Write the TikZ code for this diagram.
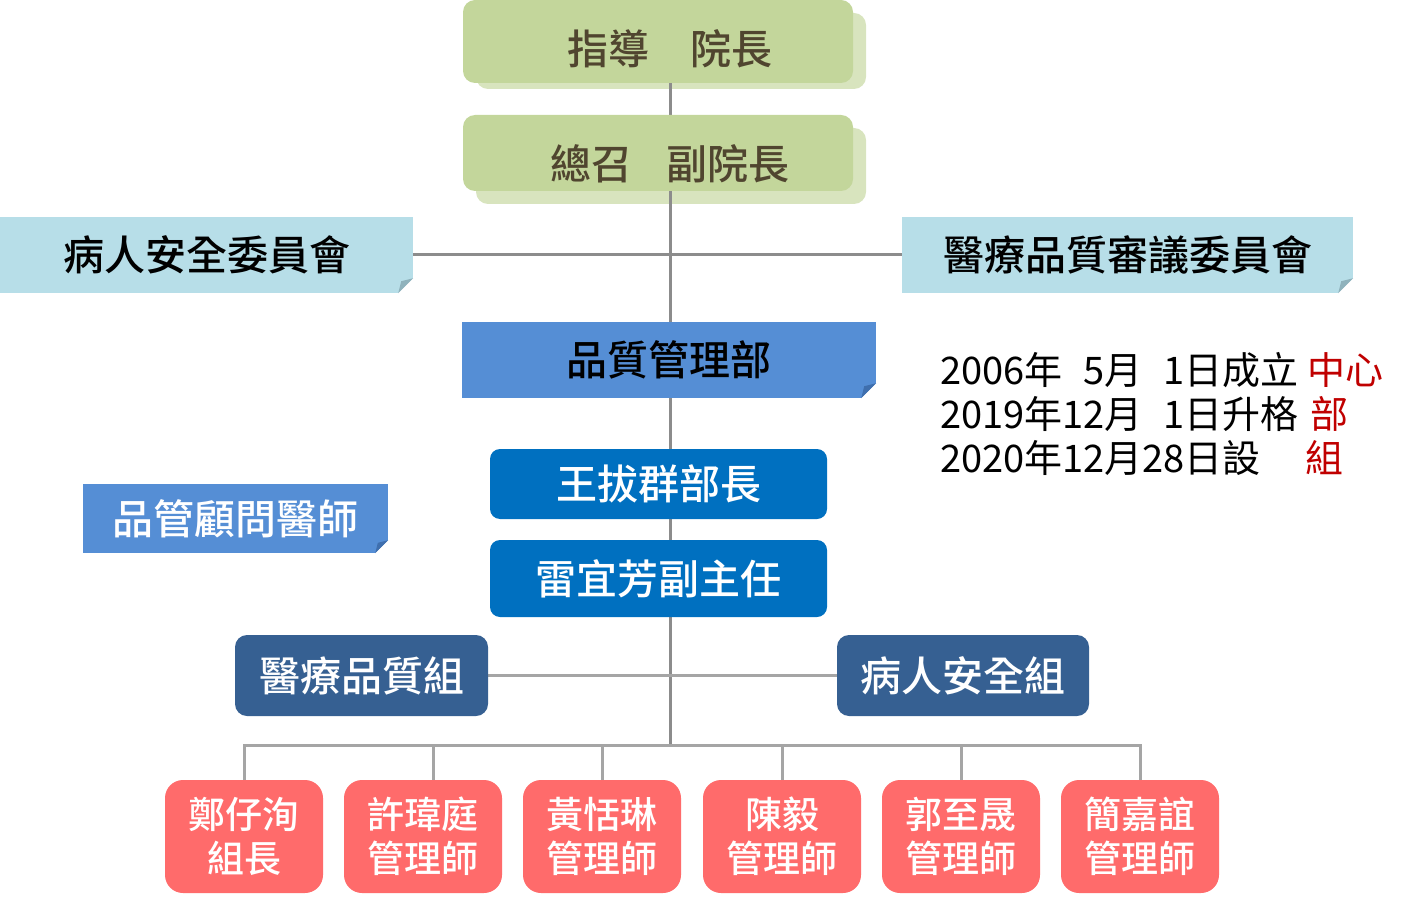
\documentclass[tikz,border=0pt]{standalone}
\usepackage{fontspec}
\setmainfont{Noto Sans CJK TC}[BoldFont={Noto Sans CJK TC Medium}]
\usetikzlibrary{backgrounds}
\definecolor{greenmain}{HTML}{C3D69B}
\definecolor{greenshade}{HTML}{D8E4BE}
\definecolor{greentext}{HTML}{50452F}
\definecolor{lightblue}{HTML}{B7DEE8}
\definecolor{lightfold}{HTML}{8FB2BC}
\definecolor{medblue}{HTML}{558ED5}
\definecolor{medfold}{HTML}{3F6FAE}
\definecolor{brightblue}{HTML}{0070C0}
\definecolor{darkblue}{HTML}{366092}
\definecolor{redbox}{HTML}{FF6B6B}
\definecolor{darkred}{HTML}{C00000}
\definecolor{linegray}{HTML}{8C8C8C}
\definecolor{lightgray}{HTML}{A5A5A5}
\newcommand{\mkfold}[3]{%
  \fill[white] (#1.south east) -- ++(-#2,0) -- ++(#2,-#2) -- cycle;
  \fill[#3] ([xshift=-#2pt]#1.south east) -- ([yshift=#2pt]#1.south east)
     -- ([xshift={-0.8*#2pt},yshift={0.8*#2pt}]#1.south east) -- cycle;}
\begin{document}
\begin{tikzpicture}[x=1pt,y=-1pt,
  box/.style={inner sep=0pt, align=center, font=\bfseries\fontsize{41}{49}\selectfont},
  greenbox/.style={box, fill=greenmain, rounded corners=12pt, text=greentext, minimum width=390pt},
  lbbox/.style={box, fill=lightblue, text=black, minimum height=76pt},
  mbbox/.style={box, fill=medblue},
  headbox/.style={box, fill=brightblue, rounded corners=10pt, text=white, minimum width=337pt},
  grpbox/.style={box, fill=darkblue, rounded corners=12pt, text=white, minimum height=81pt},
  staffbox/.style={box, fill=redbox, rounded corners=18pt, text=white,
     font=\bfseries\fontsize{37}{44}\selectfont, minimum width=158pt, minimum height=113pt},
  datetext/.style={anchor=base west, inner sep=0pt, font=\fontsize{38}{44}\selectfont},
  conn/.style={line width=3pt, draw=linegray},
  lowconn/.style={line width=3pt, draw=lightgray}]
\useasboundingbox (0,0) rectangle (1410,909);

% top boxes
\node[greenbox, minimum height=83pt, text height=47pt, text depth=0pt] (t1) at (658,41.5)
  {\hspace*{24pt}指導\hspace{41pt}院長};
\node[greenbox, minimum height=76pt, text height=54pt, text depth=0pt] (t2) at (658,153)
  {\hspace*{24pt}總召\hspace{35pt}副院長};

% committees
\node[lbbox, minimum width=413pt] (c1) at (206.5,255) {病人安全委員會};
\node[lbbox, minimum width=451pt] (c2) at (1127.5,255) {醫療品質審議委員會};
\mkfold{c1}{15}{lightfold}
\mkfold{c2}{15}{lightfold}

% department
\node[mbbox, text=black, minimum width=414pt, minimum height=76pt] (qm) at (669,360) {品質管理部};
\mkfold{qm}{15}{medfold}

% advisor
\node[mbbox, text=white, minimum width=305pt, minimum height=69pt] (adv) at (235.5,518.5) {品管顧問醫師};
\mkfold{adv}{13}{medfold}

% head and deputy
\node[headbox, minimum height=70pt] (head) at (658.5,484) {王拔群部長};
\node[headbox, minimum height=77pt] (dep) at (658.5,578.5) {雷宜芳副主任};

% groups
\node[grpbox, minimum width=253pt] (g1) at (361.5,675.5) {醫療品質組};
\node[grpbox, minimum width=252pt] (g2) at (963,675.5) {病人安全組};

% staff
\node[staffbox] (r1) at (244,836.5) {鄭仔洵\\組長};
\node[staffbox] (r2) at (423,836.5) {許瑋庭\\管理師};
\node[staffbox] (r3) at (602,836.5) {黃恬琳\\管理師};
\node[staffbox] (r4) at (782,836.5) {陳毅\\管理師};
\node[staffbox] (r5) at (961,836.5) {郭至晟\\管理師};
\node[staffbox] (r6) at (1140,836.5) {簡嘉誼\\管理師};

% dates
\node[datetext] (d1) at (940,384) {2006年\phantom{1}5月\phantom{2}1日成立};
\node[datetext] (d2) at (940,428) {2019年12月\phantom{2}1日升格};
\node[datetext] (d3) at (940,472) {2020年12月28日設};
\node[datetext, text=darkred] (e1) at (1307,384) {中心};
\node[datetext, text=darkred] (e2) at (1310,428) {部};
\node[datetext, text=darkred] (e3) at (1305,472) {組};

\coordinate (bus) at (670,745);

\begin{pgfonlayer}{background}
  \fill[greenshade, rounded corners=12pt] (476,13) rectangle (866,89);
  \fill[greenshade, rounded corners=12pt] (476,128) rectangle (866,204);
  \draw[conn] (bus |- t1.south) -- (bus);
  \draw[conn] (c1.east) -- (c2.west);
  \draw[lowconn] (g1.east) -- (g2.west);
  \draw[lowconn] (r1.north) |- (bus);
  \draw[lowconn] (r6.north) |- (bus);
  \draw[lowconn] ([xshift=10pt]r2.north) -- ([xshift=10pt]r2.north |- bus);
  \draw[lowconn] (r3.north) -- (r3.north |- bus);
  \draw[lowconn] (r4.north) -- (r4.north |- bus);
  \draw[lowconn] (r5.north) -- (r5.north |- bus);
\end{pgfonlayer}
\end{tikzpicture}
\end{document}
